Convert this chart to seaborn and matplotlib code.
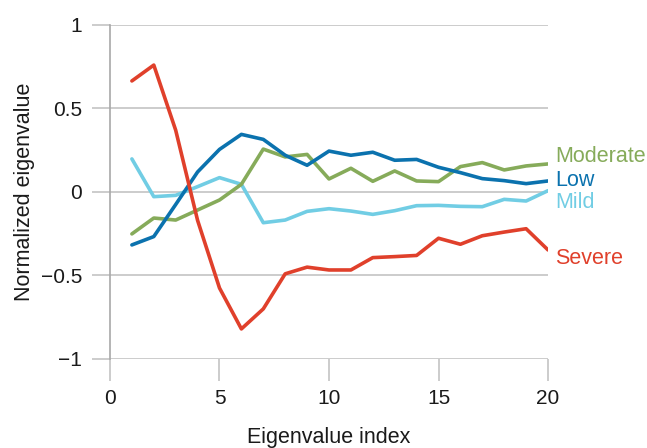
import numpy as np
import pandas as pd
import matplotlib
matplotlib.use("Agg")
import matplotlib.pyplot as plt
import seaborn as sns

# Normalized eigenvalues for the first 20 eigenvalue indices, per severity group
eigen_index = list(range(1, 21))
severe = [0.665, 0.76, 0.37, -0.17, -0.575, -0.82, -0.70, -0.49, -0.45, -0.467,
          -0.467, -0.393, -0.387, -0.38, -0.277, -0.313, -0.262, -0.24, -0.22, -0.347]
low = [-0.317, -0.267, -0.075, 0.12, 0.255, 0.345, 0.315, 0.22, 0.16, 0.245,
       0.22, 0.238, 0.19, 0.195, 0.148, 0.116, 0.08, 0.068, 0.05, 0.066]
moderate = [-0.251, -0.156, -0.168, -0.108, -0.048, 0.046, 0.257, 0.21, 0.225, 0.078,
            0.142, 0.064, 0.126, 0.066, 0.062, 0.152, 0.176, 0.132, 0.156, 0.168]
mild = [0.198, -0.028, -0.02, 0.032, 0.086, 0.046, -0.184, -0.168, -0.116, -0.1,
        -0.114, -0.134, -0.112, -0.082, -0.08, -0.086, -0.088, -0.044, -0.054, 0.008]

groups = ["Moderate", "Low", "Mild", "Severe"]
x_ticks = [0, 5, 10, 15, 20]
y_ticks = [-1, -0.5, 0, 0.5, 1]
y_ticklabels = ["\u22121", "\u22120.5", "0", "0.5", "1"]

palette = {
    "Severe": "#e0402b",
    "Low": "#0b72ae",
    "Moderate": "#86ab5a",
    "Mild": "#71cde4",
}

df = pd.concat([
    pd.DataFrame({"index": eigen_index, "value": vals, "group": name})
    for name, vals in [("Severe", severe), ("Mild", mild),
                       ("Moderate", moderate), ("Low", low)]
], ignore_index=True)

sns.set_theme(style="white")
plt.rcParams["font.family"] = ["Liberation Sans", "DejaVu Sans"]

fig = plt.figure(figsize=(6.47, 4.48), dpi=100)
ax = fig.add_axes([0.170, 0.1987, 0.677, 0.7455])

grid_col = "#c4c4c4"
for yv in y_ticks:
    ax.axhline(yv, color=grid_col, lw=1.2, zorder=0)

sns.lineplot(data=df, x="index", y="value", hue="group", palette=palette,
             hue_order=["Mild", "Moderate", "Low", "Severe"],
             linewidth=2.6, legend=False, ax=ax, zorder=3)

ax.set_xlim(0, 20)
ax.set_ylim(-1, 1)
ax.set_xticks(x_ticks)
ax.set_xticklabels([str(t) for t in x_ticks])
ax.set_yticks(y_ticks)
ax.set_yticklabels(y_ticklabels)

for side in ["top", "right", "bottom"]:
    ax.spines[side].set_visible(False)
ax.spines["left"].set_color("#a8a8a8")
ax.spines["left"].set_linewidth(1.2)

ax.tick_params(axis="y", length=13, width=1.2, color=grid_col, pad=7,
               labelsize=15, labelcolor="#1a1a1a", left=True)
ax.tick_params(axis="x", length=15.5, width=1.2, color=grid_col, pad=6,
               labelsize=15, labelcolor="#1a1a1a", bottom=True)

ax.set_xlabel("Eigenvalue index", fontsize=15.5, color="#1a1a1a", labelpad=14)
ax.set_ylabel("Normalized eigenvalue", fontsize=15.5, color="#1a1a1a", labelpad=4)

# Direct labels at the right end of each line (baseline heights in data units)
label_baseline = {"Moderate": 0.177, "Low": 0.033, "Mild": -0.093, "Severe": -0.434}
for name in groups:
    ax.annotate(name, xy=(20, label_baseline[name]), xytext=(5, 0),
                textcoords="offset points", fontsize=15.5, color=palette[name],
                ha="left", va="baseline", annotation_clip=False)

fig.savefig("out.png", dpi=100)
